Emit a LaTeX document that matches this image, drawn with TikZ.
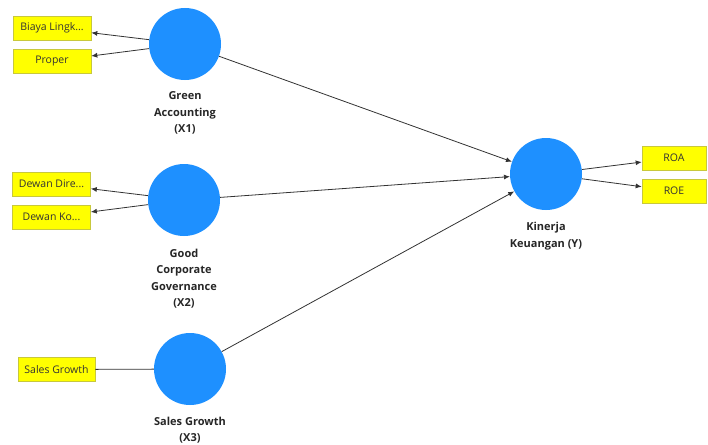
\documentclass[tikz,border=0pt]{standalone}
\usepackage{fontspec}
\setmainfont{Open Sans}
\usetikzlibrary{arrows.meta}
\definecolor{lvblue}{RGB}{30,144,255}
\definecolor{indyellow}{RGB}{255,255,0}
\definecolor{indborder}{RGB}{200,200,60}
\definecolor{linkgray}{RGB}{50,50,50}
\begin{document}
\begin{tikzpicture}[x=1pt,y=-1pt,
  latent/.style={circle,fill=lvblue,draw=none,minimum size=72pt,inner sep=0pt},
  indic/.style={rectangle,fill=indyellow,draw=indborder,line width=0.6pt,minimum width=78pt,minimum height=24pt,inner sep=1pt,text=black!80,font=\fontsize{10.5}{12}\selectfont},
  lvlabel/.style={align=center,font=\fontsize{11}{16.5}\selectfont\bfseries,text=black!85},
  link/.style={draw=linkgray,line width=0.8pt,-{Latex[length=6pt,width=5pt]}},
  plain/.style={draw=linkgray,line width=0.8pt}]
\useasboundingbox (0,0) rectangle (708,444);
% latent variables
\node[latent] (ga) at (185,44) {};
\node[latent] (gcg) at (184,200) {};
\node[latent] (sg) at (190,369) {};
\node[latent] (ky) at (546,174) {};
% labels
\node[lvlabel] (galab) at (185,113) {Green\\Accounting\\(X1)};
\node[lvlabel] (gcglab) at (184,278.5) {Good\\Corporate\\Governance\\(X2)};
\node[lvlabel] (sglab) at (190,430) {Sales Growth\\(X3)};
\node[lvlabel] (kylab) at (546,236) {Kinerja\\Keuangan (Y)};
% indicators
\node[indic] (bl) at (52,28) {Biaya Lingk...};
\node[indic] (pr) at (52,61) {Proper};
\node[indic] (dd) at (51.5,184) {Dewan Dire...};
\node[indic] (dk) at (51.5,217) {Dewan Ko...};
\node[indic,minimum width=77pt] (sgi) at (56.5,369.5) {Sales Growth};
\node[indic,minimum width=64pt] (roa) at (674,158) {ROA};
\node[indic,minimum width=64pt] (roe) at (674,191) {ROE};
% connectors
\draw[link] (ga) -- (bl);
\draw[link] (ga) -- (pr);
\draw[link] (gcg) -- (dd);
\draw[link] (gcg) -- (dk);
\draw[plain] (sgi) -- (sg);
\draw[link] (ga) -- (ky);
\draw[link] (gcg) -- (ky);
\draw[link] (sg) -- (ky);
\draw[link] (ky) -- (roa);
\draw[link] (ky) -- (roe);
\end{tikzpicture}
\end{document}
